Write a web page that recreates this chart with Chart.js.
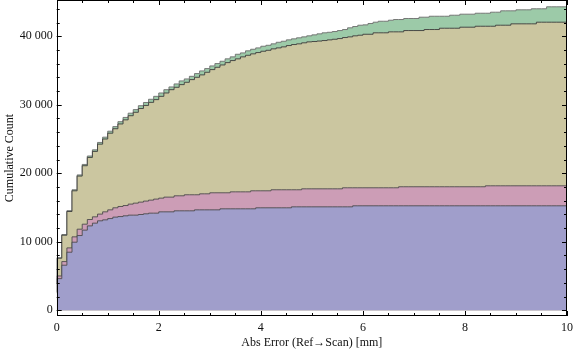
<!DOCTYPE html>
<html>
<head>
<meta charset="utf-8">
<script src="https://cdn.jsdelivr.net/npm/chart.js@4/dist/chart.umd.min.js"></script>
<style>
  html, body { margin: 0; padding: 0; background: #fff; }
  #wrap { width: 576px; height: 357px; position: relative; }
</style>
</head>
<body>
<div id="wrap"><canvas id="chart"></canvas></div>
<script>
// bins of 0.1 mm from 0 to 10 mm
const binWidth = 0.1;
const binCount = 100;

// cumulative counts per bin
const blueCounts = [
  2490, 4620, 6580, 8480, 9940, 10910, 11700, 12320, 12720, 13060,
  13200, 13390, 13600, 13680, 13790, 13890, 13890, 13980, 14080, 14180,
  14180, 14370, 14370, 14370, 14520, 14520, 14520, 14520, 14660, 14660,
  14660, 14660, 14660, 14810, 14810, 14810, 14810, 14810, 14810, 14810,
  14960, 14960, 14960, 14960, 14960, 14960, 14960, 15100, 15100, 15100,
  15100, 15100, 15100, 15100, 15100, 15100, 15100, 15100, 15100, 15250,
  15250, 15250, 15250, 15250, 15250, 15250, 15250, 15250, 15250, 15250,
  15250, 15250, 15250, 15250, 15250, 15250, 15250, 15250, 15250, 15250,
  15250, 15250, 15250, 15250, 15250, 15250, 15250, 15250, 15250, 15250,
  15250, 15250, 15250, 15250, 15250, 15250, 15250, 15250, 15250, 15250
];
const pinkCounts = [
  2680, 5010, 7110, 9110, 10720, 11840, 12570, 13250, 13640, 14040,
  14370, 14660, 14960, 15150, 15290, 15500, 15640, 15790, 15940, 16080,
  16230, 16370, 16520, 16520, 16710, 16710, 16860, 16860, 16860, 17000,
  17000, 17150, 17150, 17150, 17150, 17290, 17290, 17290, 17290, 17440,
  17440, 17440, 17440, 17590, 17590, 17590, 17590, 17590, 17590, 17730,
  17730, 17730, 17730, 17730, 17730, 17730, 17730, 17880, 17880, 17880,
  17880, 17880, 17880, 17880, 17880, 17880, 17880, 17880, 18030, 18030,
  18030, 18030, 18030, 18030, 18030, 18030, 18030, 18030, 18030, 18030,
  18030, 18030, 18030, 18030, 18030, 18170, 18170, 18170, 18170, 18170,
  18170, 18170, 18170, 18170, 18170, 18170, 18170, 18170, 18170, 18170
];
const oliveCounts = [
  3950, 7600, 10960, 14420, 17440, 19590, 21100, 22310, 23190, 24250,
  25000, 25850, 26500, 27200, 27800, 28400, 28900, 29450, 29900, 30350,
  30750, 31230, 31720, 32200, 32550, 32940, 33280, 33670, 34010, 34360,
  34740, 35130, 35470, 35810, 36150, 36450, 36700, 36990, 37220, 37430,
  37620, 37810, 37950, 38160, 38300, 38450, 38640, 38790, 38890, 39040,
  39180, 39230, 39300, 39370, 39470, 39560, 39660, 39810, 39910, 40060,
  40150, 40290, 40290, 40500, 40500, 40500, 40640, 40640, 40640, 40830,
  40830, 40830, 40830, 40980, 40980, 40980, 41170, 41170, 41170, 41170,
  41320, 41320, 41320, 41460, 41460, 41460, 41460, 41610, 41610, 41610,
  41810, 41810, 41810, 41810, 41810, 42050, 42050, 42050, 42050, 42050
];
const greenCounts = [
  3980, 7660, 11050, 14540, 17590, 19760, 21290, 22520, 23420, 24500,
  25270, 26140, 26810, 27530, 28150, 28770, 29290, 29860, 30330, 30800,
  31230, 31720, 32200, 32600, 33040, 33480, 33770, 34150, 34550, 34940,
  35280, 35670, 36010, 36350, 36700, 36990, 37370, 37570, 37870, 38100,
  38300, 38540, 38680, 38890, 39120, 39270, 39470, 39620, 39770, 39910,
  40060, 40200, 40350, 40500, 40580, 40690, 40830, 40980, 41230, 41420,
  41610, 41660, 41860, 42050, 42190, 42190, 42340, 42440, 42440, 42590,
  42590, 42590, 42780, 42780, 42920, 42920, 42920, 42920, 43070, 43070,
  43220, 43220, 43220, 43360, 43360, 43360, 43510, 43510, 43710, 43710,
  43710, 43860, 43860, 43860, 44010, 44010, 44010, 44300, 44300, 44300
];

// axis ticks
const xTickValues = [0, 2, 4, 6, 8, 10];
const yTickValues = [0, 10000, 20000, 30000, 40000];

// 階段状の点列に変換（最後のビンの右端も追加）
function toSteps(counts) {
  const pts = counts.map((v, i) => ({ x: i * binWidth, y: v }));
  pts.push({ x: binCount * binWidth, y: counts[counts.length - 1] });
  return pts;
}

function series(counts, fill, line) {
  return {
    data: toSteps(counts),
    stepped: 'after',
    fill: 'origin',
    backgroundColor: fill,
    borderColor: line,
    borderWidth: 1,
    pointRadius: 0,
    tension: 0
  };
}

// 枠と内向きの目盛り（Mathematica風）
const framePlugin = {
  id: 'frame',
  afterDraw(chart) {
    const ctx = chart.ctx;
    const a = chart.chartArea;
    const xs = chart.scales.x;
    const ys = chart.scales.y;
    ctx.save();
    ctx.strokeStyle = '#000';
    ctx.lineWidth = 1;
    ctx.strokeRect(Math.round(a.left) + 0.5, Math.round(a.top) + 0.5,
      Math.round(a.right - a.left) - 1, Math.round(a.bottom - a.top) - 1);
    ctx.beginPath();
    for (let v = 0; v <= 10.0001; v += 0.5) {
      const major = Math.abs(v - Math.round(v / 2) * 2) < 1e-6;
      const len = major ? 5 : 3;
      const px = Math.round(xs.getPixelForValue(v)) + 0.5;
      ctx.moveTo(px, a.bottom); ctx.lineTo(px, a.bottom - len);
      ctx.moveTo(px, a.top); ctx.lineTo(px, a.top + len);
    }
    for (let v = 0; v <= 44000; v += 2000) {
      const major = v % 10000 === 0;
      const len = major ? 5 : 3;
      const py = Math.round(ys.getPixelForValue(v)) + 0.5;
      ctx.moveTo(a.left, py); ctx.lineTo(a.left + len, py);
      ctx.moveTo(a.right, py); ctx.lineTo(a.right - len, py);
    }
    ctx.stroke();
    ctx.restore();
  }
};

const serif = { family: '"Liberation Serif", "Times New Roman", serif', size: 12 };

new Chart(document.getElementById('chart'), {
  type: 'line',
  data: {
    datasets: [
      series(blueCounts, '#a09ecb', 'rgba(70,70,70,0.85)'),
      series(pinkCounts, '#cc9db6', 'rgba(70,70,70,0.85)'),
      series(oliveCounts, '#cbc6a0', 'rgba(60,60,60,0.9)'),
      series(greenCounts, '#9ccaa8', 'rgba(110,110,110,0.9)')
    ]
  },
  options: {
    responsive: true,
    maintainAspectRatio: false,
    animation: false,
    layout: { padding: { top: 0, right: 9, left: 0, bottom: 0 } },
    plugins: { legend: { display: false }, tooltip: { enabled: false } },
    scales: {
      x: {
        type: 'linear',
        min: 0,
        max: 10,
        afterBuildTicks: s => { s.ticks = xTickValues.map(v => ({ value: v })); },
        afterFit: s => { s.height = 41; s.paddingLeft = 0; s.paddingRight = 0; },
        grid: { display: false, drawTicks: false },
        border: { display: false },
        ticks: { padding: 5, color: '#111', font: serif, maxRotation: 0 },
        title: { display: true, text: 'Abs Error (Ref\u2192Scan) [mm]', color: '#111', font: serif, padding: { top: 0, bottom: 7 } }
      },
      y: {
        type: 'linear',
        min: -833,
        max: 45290,
        afterBuildTicks: s => { s.ticks = yTickValues.map(v => ({ value: v })); },
        afterFit: s => { s.width = 56.7; s.paddingTop = 0; s.paddingBottom = 0; },
        grid: { display: false, drawTicks: false },
        border: { display: false },
        ticks: {
          padding: 4, color: '#111', font: serif,
          callback: v => String(v).replace(/\B(?=(\d{3})+(?!\d))/g, ' ')
        },
        title: { display: true, text: 'Cumulative Count', color: '#111', font: serif, padding: { top: 3, bottom: 0 } }
      }
    }
  },
  plugins: [framePlugin]
});
</script>
</body>
</html>
